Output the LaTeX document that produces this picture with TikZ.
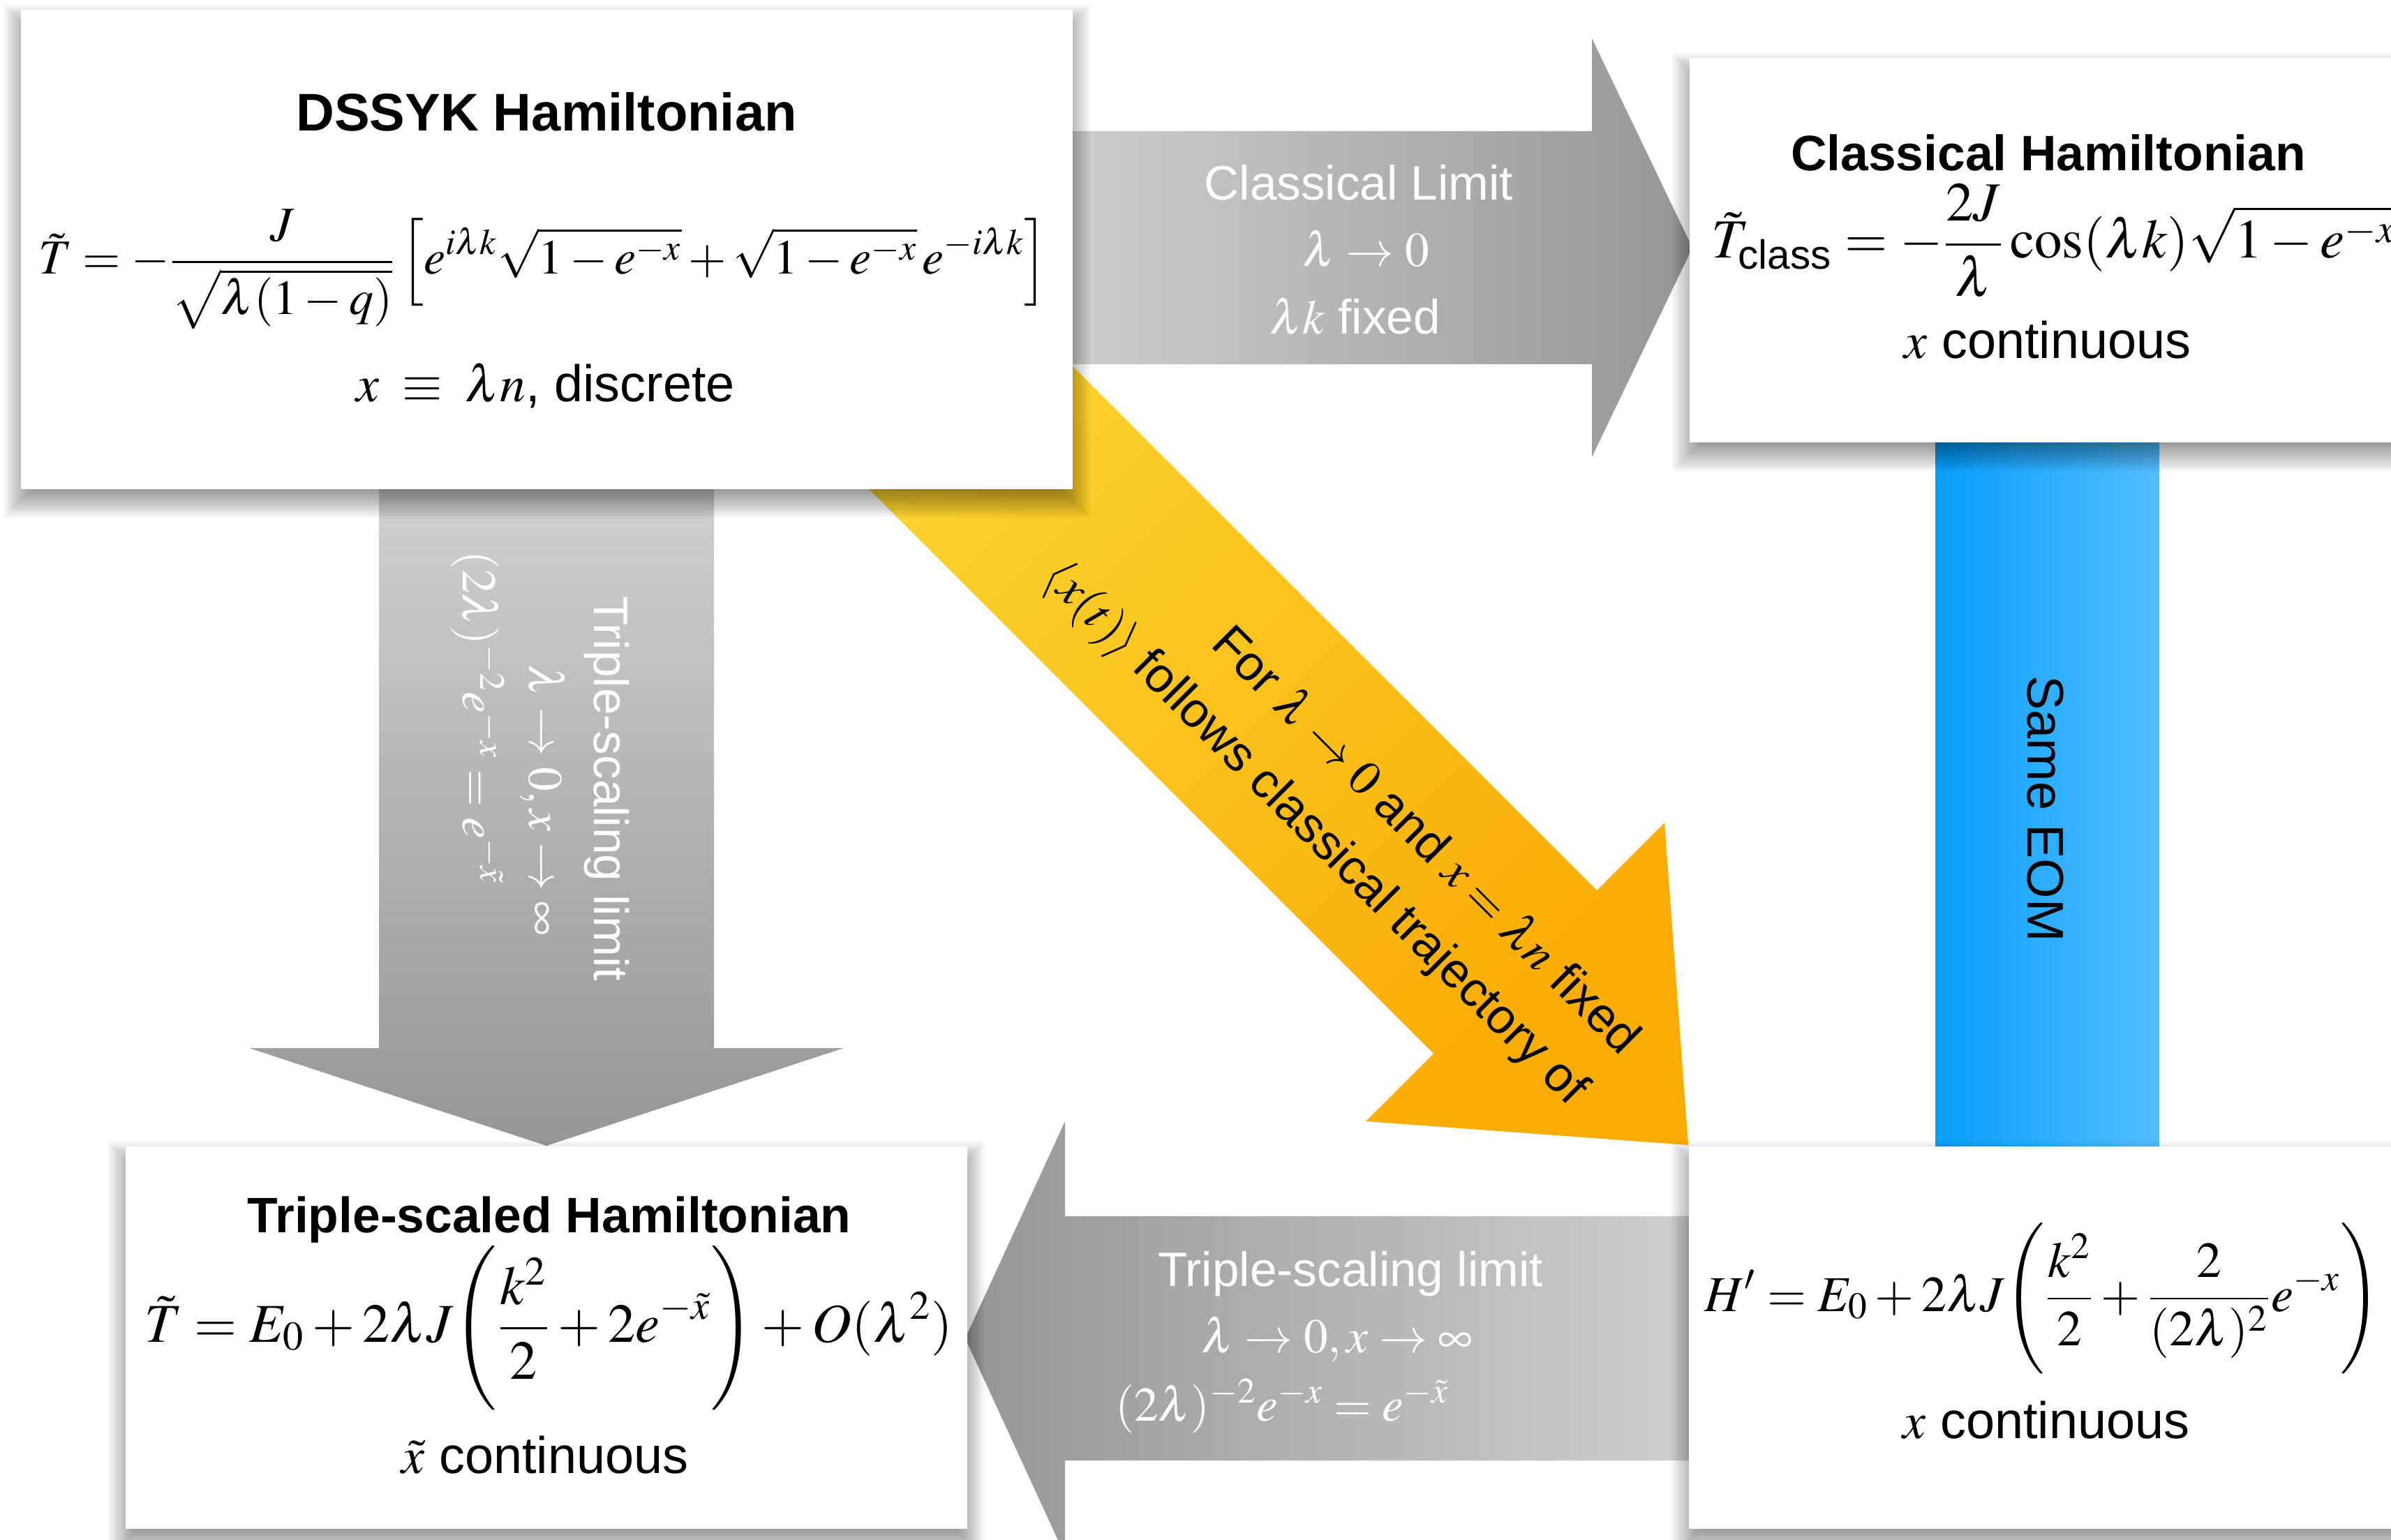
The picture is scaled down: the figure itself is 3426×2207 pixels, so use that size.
\documentclass[tikz,border=0pt]{standalone}
\usepackage{amsmath}
\usepackage{mathptmx}
\usepackage[no-math]{fontspec}
\setmainfont{Liberation Sans}
\usepackage{graphicx}

\definecolor{graylight}{RGB}{214,214,214}
\definecolor{graydark}{RGB}{150,150,150}
\definecolor{yellowlight}{RGB}{252,214,52}
\definecolor{yellowdark}{RGB}{249,172,4}
\definecolor{blueleft}{RGB}{8,158,251}
\definecolor{blueright}{RGB}{84,190,255}

% soft shadow: box shifted down, blurred
\newcommand{\softshadow}[4]{%
  \foreach \k in {1,...,16}{%
    \fill[black,opacity=0.028] (#1+16-\k*2.6, #2+18+16-\k*2.6) rectangle (#3-16+\k*2.6, #4+16-16+\k*2.6);
  }}

\tikzset{
  boxw/.style={fill=white, draw=none, inner sep=0, outer sep=0},
  ttl/.style={font=\fontsize{20.3}{24}\selectfont\bfseries, inner sep=0},
  bigttl/.style={font=\fontsize{21.6}{26}\selectfont\bfseries, inner sep=0},
  txt/.style={font=\fontsize{21}{25}\selectfont, inner sep=0},
  eqn/.style={font=\fontsize{20}{24}\selectfont, inner sep=0},
  lbl/.style={font=\fontsize{19.7}{24}\selectfont, text=white, inner sep=0},
  ylbl/.style={font=\fontsize{20}{24}\selectfont, text=black, inner sep=0, rotate=-45},
}

\begin{document}
\begin{tikzpicture}[x=0.01cm,y=-0.01cm]
\useasboundingbox (0,0) rectangle (3426,2207);
\clip (0,0) rectangle (3426,2207);
\fill[white] (0,0) rectangle (3426,2207);

% ---------- arrows ----------
% classical limit (right)
\shade[left color=graylight, right color=graydark]
  (1400,188) -- (2281,188) -- (2281,55) -- (2425,355) -- (2281,655) -- (2281,522) -- (1400,522) -- cycle;
% triple scaling (down)
\shade[top color=graylight, bottom color=graydark]
  (543,600) -- (1023,600) -- (1023,1502) -- (1209,1502) -- (783,1642) -- (357,1502) -- (543,1502) -- cycle;
% triple scaling (left)
\shade[left color=graydark, right color=graylight]
  (2550,1743) -- (1526,1743) -- (1526,1607) -- (1383,1918) -- (1526,2229) -- (1526,2093) -- (2550,2093) -- cycle;
% yellow diagonal
\shade[top color=yellowlight, bottom color=yellowdark, shading angle=45]
  (1369,357) -- (2288,1276) -- (2385,1179) -- (2419,1641) -- (1957,1607) -- (2054,1510) -- (1135,591) -- cycle;
% blue bar
\shade[left color=blueleft, right color=blueright] (2773,600) rectangle (3094,1680);

% ---------- boxes ----------
\softshadow{30}{14}{1537}{701}
\softshadow{2421}{83}{3449}{634}
\softshadow{180}{1643}{1386}{2191}
\softshadow{2420}{1643}{3449}{2191}

\node[boxw, minimum width=15.07cm, minimum height=6.87cm] (dssyk) at (783.5,357.5) {};
\node[boxw, minimum width=10.28cm, minimum height=5.51cm] (classical) at (2935,358.5) {};
\node[boxw, minimum width=12.06cm, minimum height=5.48cm] (triple) at (783,1917) {};
\node[boxw, minimum width=10.29cm, minimum height=5.48cm] (hprime) at (2934.5,1917) {};

% ---------- DSSYK box text ----------
\node[bigttl, anchor=base] (t1) at (783,188) {DSSYK Hamiltonian};
\node[eqn, anchor=base] (e1) at (778,393) {\resizebox{14.45cm}{!}{$\displaystyle \tilde T = -\frac{J}{\sqrt{\lambda(1-q)}}\left[e^{i\lambda k}\sqrt{1-e^{-x}}+\sqrt{1-e^{-x}}\,e^{-i\lambda k}\right]$}};
\node[txt, anchor=base] (d1) at (782,576) {$x \;\equiv\; \lambda n$, discrete};

% ---------- Classical box text ----------
\node[ttl, anchor=base] (t2) at (2935,245) {Classical Hamiltonian};
\node[eqn, anchor=base west] (e2) at (2452,370) {\resizebox{9.8cm}{!}{$\displaystyle \tilde T_{\text{class}} = -\frac{2J}{\lambda}\cos(\lambda k)\sqrt{1-e^{-x}}$}};
\node[txt, anchor=base] (d2) at (2934,514) {$x$ continuous};

% ---------- Triple-scaled box text ----------
\node[ttl, anchor=base] (t3) at (787,1766) {Triple-scaled Hamiltonian};
\node[eqn, anchor=base west] (e3) at (207,1923) {\resizebox{11.57cm}{!}{$\displaystyle \tilde T = E_0 + 2\lambda J\Biggl(\frac{k^2}{2}+2e^{-\tilde x}\Biggr)+O(\lambda^2)$}};
\node[txt, anchor=base] (d3) at (781,2111) {$\tilde x$ continuous};

% ---------- H' box text ----------
\node[eqn, anchor=base west] (e4) at (2442,1879) {\resizebox{9.67cm}{!}{$\displaystyle H' = E_0 + 2\lambda J\Biggl(\frac{k^2}{2}+\frac{2}{(2\lambda)^2}e^{-x}\Biggr)$}};
\node[txt, anchor=base] (d4) at (2932,2061) {$x$ continuous};

% ---------- classical limit label ----------
\node[lbl, anchor=base] (c1) at (1947,287) {Classical Limit};
\node[lbl, anchor=base] (c2) at (1957,382) {$\lambda \to 0$};
\node[lbl, anchor=base] (c3) at (1942,479) {$\lambda k$ fixed};

% ---------- vertical triple-scaling label ----------
\node[lbl, anchor=base, rotate=-90] (v1) at (851,1130) {Triple-scaling limit};
\node[lbl, anchor=base, rotate=-90] (v2) at (758,1147) {$\lambda \to 0, x \to \infty$};
\node[lbl, anchor=base, rotate=-90] (v3) at (663,1028) {$(2\lambda)^{-2}e^{-x} = e^{-\tilde x}$};

% ---------- horizontal triple-scaling label ----------
\node[lbl, anchor=base] (h1) at (1935,1843) {Triple-scaling limit};
\node[lbl, anchor=base] (h2) at (1916,1938) {$\lambda \to 0, x \to \infty$};
\node[lbl, anchor=base] (h3) at (1837,2036) {$(2\lambda)^{-2}e^{-x} = e^{-\tilde x}$};

% ---------- yellow label ----------
\node[ylbl, anchor=base] (y1) at (2028,1220) {For $\lambda \to 0$ and $x = \lambda n$ fixed};
\node[ylbl, anchor=base] (y2) at (1870,1208) {$\langle x(t)\rangle$ follows classical trajectory of};

% ---------- blue label ----------
\node[txt, rotate=-90, anchor=center] (eom) at (2931,1159) {Same EOM};
\end{tikzpicture}
\end{document}
